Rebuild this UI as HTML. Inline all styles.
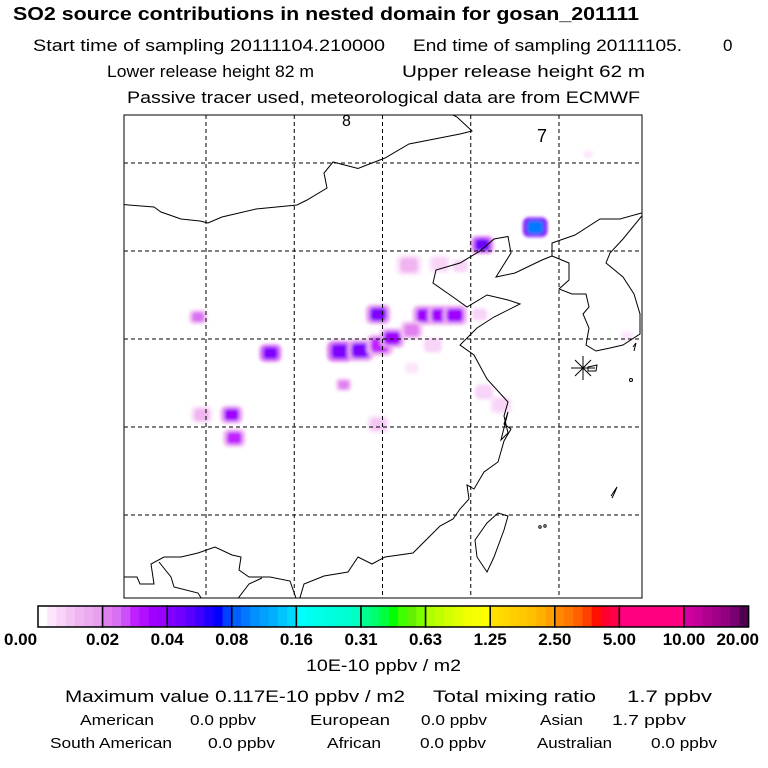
<!DOCTYPE html>
<html><head><meta charset="utf-8"><style>
html,body{margin:0;padding:0;background:#fff;}
svg{display:block;font-family:"Liberation Sans",Arial,sans-serif;}
</style></head><body>
<svg id="chart" width="768" height="768" viewBox="0 0 768 768" xmlns="http://www.w3.org/2000/svg" xml:space="preserve">
<defs>
<filter id="blur" x="-50%" y="-50%" width="200%" height="200%"><feGaussianBlur stdDeviation="1.6"/></filter>
<clipPath id="mapclip"><rect x="124" y="115" width="518" height="483"/></clipPath>
</defs>
<g font-size="16" fill="#000">
<text x="13" y="20" font-size="18" font-weight="bold" textLength="626" lengthAdjust="spacingAndGlyphs">SO2 source contributions in nested domain for gosan_201111</text>
<text x="33" y="51" font-size="17" textLength="352" lengthAdjust="spacingAndGlyphs">Start time of sampling 20111104.210000</text>
<text x="413" y="51" font-size="17" textLength="269" lengthAdjust="spacingAndGlyphs">End time of sampling 20111105.</text>
<text x="723" y="51" font-size="17">0</text>
<text x="107" y="77" font-size="17" textLength="207" lengthAdjust="spacingAndGlyphs">Lower release height   82 m</text>
<text x="402" y="77" font-size="17" textLength="243" lengthAdjust="spacingAndGlyphs">Upper release height   62 m</text>
<text x="127" y="103" font-size="17" textLength="513" lengthAdjust="spacingAndGlyphs">Passive tracer used, meteorological data are from ECMWF</text>
</g>
<g id="map">
<rect x="124" y="115" width="518" height="483" fill="#fff"/>
<g id="plumes" clip-path="url(#mapclip)" filter="url(#blur)"></g>
<g id="grid" stroke="#000" stroke-width="1" stroke-dasharray="4,3"></g>
<g fill="none" stroke="#000" stroke-width="1" clip-path="url(#mapclip)">
<polyline points="124,204.6 154,207 161,212 181,219 200,221 208,223 222,217 256,209 297,205 307,200 327,188 324,173 333,162 358,168.5 372,163 385,158 409,144 460,134 472,131 457,117 453,115"/>
<polyline points="645,212 620,219 600,219 575,235 552,243 552,256 542,260 515,273 496,277 511,253 508,236.5 494,239 480,251 460,263 436,270 433,283 453,297 467,307 487,295 508,300 520,304 494,317 477,328 460,345 474,355 487,379 508,402 504,416 508,433 501,440 508,412 504,424 511,429 504,441 498,462 484,472 474,489 467,485 469,499 460,509 453,519 440,526 426,540 413,553 385,557 372,564 358,557 348,572 324,576 304,584 299,601"/>
<polyline points="645,212 623,239 610,253 606,263 623,277 634,294 640,314 640,334 623,345 610,348 596,351 586,345 589,328 583,314 589,307 586,294 572,294 559,289 569,280 569,263 552,256"/>
<polyline points="124,577 137,577 140,584 154,584 151,564 164,557 181,557 198,553 215,547 232,555 241,557 239,570 249,577 270,577 290,581 297,601"/>
<polyline points="159,562 171,577 174,587 198,593 203,601"/>
<polyline points="236,601 249,584 262,578"/>
<polygon points="498,513 508,516 504,530 494,557 487,572 477,557 475,540 487,523"/>
<polygon points="588,367 597,365 596,371 588,371"/>
<polyline points="633,347 636,343 634,351"/>
<polyline points="611,496 617,487 614,494 612,498"/>
<circle cx="631" cy="380" r="1.5"/>
<circle cx="540" cy="527" r="1.2"/>
<circle cx="545" cy="526" r="1.2"/>
</g>
<g stroke="#000" stroke-width="1">
<line x1="571" y1="368" x2="595" y2="368"/><line x1="583" y1="356" x2="583" y2="380"/>
<line x1="575" y1="360" x2="591" y2="376"/><line x1="575" y1="376" x2="591" y2="360"/>
</g>
<text x="342" y="126" font-size="16">8</text>
<text x="537" y="142" font-size="18">7</text>
<rect x="124" y="115" width="518" height="483" fill="none" stroke="#000" stroke-width="1"/>
</g>
<g id="colorbar"></g>
<g id="cbticks" font-size="17" font-weight="bold"></g>
<text x="306" y="671" font-size="17" textLength="155" lengthAdjust="spacingAndGlyphs">10E-10 ppbv / m2</text>
<g font-size="17">
<text x="65" y="702" textLength="340" lengthAdjust="spacingAndGlyphs">Maximum value  0.117E-10 ppbv / m2</text>
<text x="433" y="702" textLength="163" lengthAdjust="spacingAndGlyphs">Total mixing ratio</text>
<text x="627" y="702" textLength="85" lengthAdjust="spacingAndGlyphs">1.7 ppbv</text>
</g>
<g font-size="15">
<text x="80" y="725" textLength="74" lengthAdjust="spacingAndGlyphs">American</text>
<text x="190" y="725" textLength="66" lengthAdjust="spacingAndGlyphs">0.0 ppbv</text>
<text x="310" y="725" textLength="80" lengthAdjust="spacingAndGlyphs">European</text>
<text x="421" y="725" textLength="66" lengthAdjust="spacingAndGlyphs">0.0 ppbv</text>
<text x="540" y="725" textLength="43" lengthAdjust="spacingAndGlyphs">Asian</text>
<text x="612" y="725" textLength="74" lengthAdjust="spacingAndGlyphs">1.7 ppbv</text>
<text x="50" y="748" textLength="122" lengthAdjust="spacingAndGlyphs">South American</text>
<text x="208" y="748" textLength="67" lengthAdjust="spacingAndGlyphs">0.0 ppbv</text>
<text x="327" y="748" textLength="54" lengthAdjust="spacingAndGlyphs">African</text>
<text x="420" y="748" textLength="66" lengthAdjust="spacingAndGlyphs">0.0 ppbv</text>
<text x="537" y="748" textLength="75" lengthAdjust="spacingAndGlyphs">Australian</text>
<text x="651" y="748" textLength="66" lengthAdjust="spacingAndGlyphs">0.0 ppbv</text>
</g>
</svg>
<script>
// Colorbar data
const levelLabels = ["0.00","0.02","0.04","0.08","0.16","0.31","0.63","1.25","2.50","5.00","10.00","20.00"];
const levelColors = [
 ["#ffffff","#fbe6fb","#f8d4f8","#f4c4f4","#f0b4f0","#ecaaf0","#e8a0ee"],
 ["#e080f0","#d870f4","#cc50f8","#c020ff","#b010ff","#a000ff","#9800ff"],
 ["#8000ff","#7000ff","#5a00ff","#4000ff","#2000ff","#0000ff","#0040ff"],
 ["#0060ff","#0078ff","#0090ff","#00a0ff","#00b0ff","#00c4ff","#00d8ff"],
 ["#00ffff","#00fff0","#00ffe8","#00ffe0","#00ffd8","#00ffd0","#00ffc0"],
 ["#00ff90","#00ff70","#00ff40","#00ff00","#40ff00","#60f000","#80ff00"],
 ["#b0ff00","#c0ff00","#d0ff00","#e0ff00","#f0ff00","#f8ff00","#ffff00"],
 ["#ffe000","#ffd800","#ffd000","#ffc800","#ffc000","#ffb000","#ffa000"],
 ["#ff8800","#ff7800","#ff6000","#ff4000","#ff1000","#ff0030","#ff0048"],
 ["#ff0080","#ff0080","#ff0080","#ff0080","#ff0080","#ff0080","#ff0080"],
 ["#d000a0","#c00098","#b00090","#a00088","#900080","#780070","#500050"]
];
// Plume data: longitude, latitude, value (10E-10 ppbv/m2), size (degrees)
const plumeLon = [117.3,111.3,103.0,106.5,108.8,79.1,87.3,95.2,97.5,99.7,99.5,101.1,104.8,106.5,108.2,103.3,111.0,105.7,103.3,95.6,111.5,113.4,99.5,79.5,82.9,83.2,127.7,123.3];
const plumeLat = [42.7,40.7,38.4,38.5,38.3,32.5,28.4,28.6,28.7,29.3,32.8,30.1,32.7,32.7,32.7,31.0,32.8,29.3,26.7,24.8,24.0,22.5,20.3,21.4,21.4,18.75,30.3,51.0];
const plumeVal = [0.10,0.05,0.012,0.008,0.006,0.025,0.045,0.045,0.04,0.03,0.04,0.035,0.035,0.035,0.035,0.02,0.006,0.006,0.005,0.02,0.006,0.008,0.01,0.012,0.035,0.03,0.005,0.004];
const plumeSize = [1.1,1.0,1.2,1.0,1.0,0.8,1.0,1.2,1.2,1.2,1.1,1.1,1.1,1.1,1.1,1.0,1.0,1.2,0.9,0.7,1.2,1.0,1.0,1.0,1.0,1.0,0.8,0.6];
// Grid
const gridLons = [80,90,100,110,120];
const gridLats = [50,40,30,20,10];

const NS="http://www.w3.org/2000/svg";
function xOf(lon){return 206+(lon-80)*8.825;}
function yOf(lat){return 163+(50-lat)*8.8;}
const levelVals = levelLabels.map(Number);
function colorOf(v){
  for(let i=0;i<levelVals.length-1;i++){
    if(v<levelVals[i+1]){
      const f=(v-levelVals[i])/(levelVals[i+1]-levelVals[i]);
      const c=levelColors[i];
      return c[Math.min(c.length-1,Math.floor(f*c.length))];
    }
  }
  return "#500050";
}
const grid=document.getElementById('grid');
gridLons.forEach(l=>{
  const ln=document.createElementNS(NS,'line');
  
  
  ln.setAttribute('x1',xOf(l));ln.setAttribute('x2',xOf(l));ln.setAttribute('y1',115);ln.setAttribute('y2',598);
  grid.appendChild(ln);
});
gridLats.forEach(l=>{
  const ln=document.createElementNS(NS,'line');
  
  
  ln.setAttribute('y1',yOf(l));ln.setAttribute('y2',yOf(l));ln.setAttribute('x1',124);ln.setAttribute('x2',642);
  grid.appendChild(ln);
});
const pg=document.getElementById('plumes');
plumeLon.forEach((lon,i)=>{
  const v=plumeVal[i];const r=plumeSize[i]*8.8;
  const c=document.createElementNS(NS,'rect');
  
  
  c.setAttribute('x',xOf(lon)-r*1.25);c.setAttribute('y',yOf(plumeLat[i])-r*1.0);
  c.setAttribute('width',r*2.5);c.setAttribute('height',r*2.0);c.setAttribute('rx',r*0.6);
  c.setAttribute('fill',colorOf(v*0.45));
  pg.appendChild(c);
  const c2=document.createElementNS(NS,'rect');
  
  
  c2.setAttribute('x',xOf(lon)-r*0.85);c2.setAttribute('y',yOf(plumeLat[i])-r*0.7);
  c2.setAttribute('width',r*1.7);c2.setAttribute('height',r*1.4);c2.setAttribute('rx',r*0.4);
  c2.setAttribute('fill',colorOf(v));
  pg.appendChild(c2);
});
// colorbar
const cb=document.getElementById('colorbar');
const x0=38,seg=64.6,y0=606,h=21;
levelColors.forEach((cols,i)=>{
  const sw=seg/cols.length;
  cols.forEach((col,j)=>{
    const r=document.createElementNS(NS,'rect');
    
    
    r.setAttribute('x',x0+i*seg+j*sw);r.setAttribute('y',y0);r.setAttribute('width',sw+0.5);r.setAttribute('height',h);
    r.setAttribute('fill',col);cb.appendChild(r);
  });
  const b=document.createElementNS(NS,'rect');
  
  
  b.setAttribute('x',x0+i*seg);b.setAttribute('y',y0);b.setAttribute('width',seg);b.setAttribute('height',h);
  b.setAttribute('fill','none');b.setAttribute('stroke','#000');b.setAttribute('stroke-width','1.5');
  cb.appendChild(b);
});
const tk=document.getElementById('cbticks');
levelLabels.forEach((lab,i)=>{
  const t=document.createElementNS(NS,'text');
  
  
  let x=x0+i*seg;
  let anchor='middle';
  if(i===0){x=4;anchor='start';}
  if(i===levelLabels.length-1){x=759;anchor='end';}
  t.setAttribute('x',x);t.setAttribute('y',645);t.setAttribute('text-anchor',anchor);
  t.textContent=lab;tk.appendChild(t);
});
</script>
</body></html>
